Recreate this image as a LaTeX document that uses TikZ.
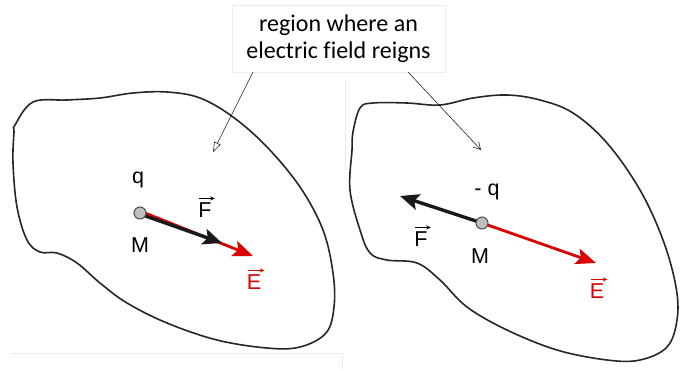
\documentclass[tikz,border=0pt]{standalone}
\usepackage{fontspec}
\setmainfont{Liberation Sans}
\newfontfamily\calfont[Ligatures=NoCommon]{Carlito}
\usetikzlibrary{arrows.meta}
\begin{document}
\begin{tikzpicture}[x=1pt,y=-1pt,
  blob/.style={draw=black!85,line width=1.6pt,smooth cycle,tension=0.6},
  lbl/.style={font=\fontsize{21.5}{24}\selectfont,inner sep=0pt},
  charge/.style={circle,draw=black!70,fill=gray!50,line width=1pt,minimum size=12pt,inner sep=0pt},
  Farrow/.style={black!90,line width=3.4pt,-{Stealth[length=19pt,width=16pt,inset=4pt]}},
  Earrow/.style={red!85!black,line width=2.8pt,-{Stealth[length=20pt,width=16pt,inset=4pt]}},
  vecar/.style={line width=0.8pt,-{Stealth[length=4.5pt,width=4pt]}},
  pointer/.style={line width=0.6pt,black!85}]
\useasboundingbox (0,0) rectangle (680,370);
\fill[white] (0,0) rectangle (680,370);
% faint frame remnants
\draw[gray!15,line width=0.6pt] (10,353) -- (342,353) -- (342,370);
\draw[gray!15,line width=0.6pt] (345,80) -- (345,170);
% left blob
\draw[blob] plot coordinates {(15,125) (33,102) (67,100) (100,98) (133,93) (167,92) (200,98) (233,117) (267,147) (300,187) (323,230) (333,273) (334,307) (326,333) (300,347) (267,348) (217,340) (167,323) (127,303) (100,283) (77,263) (57,253) (40,252) (27,240) (17,207) (13,163) (14,132)};
% right blob
\draw[blob] plot coordinates {(353,132) (360,108) (373,103) (407,103) (440,105) (473,98) (507,95) (540,100) (573,113) (607,143) (640,190) (663,240) (676,287) (677,320) (667,347) (640,360) (607,360) (557,350) (507,330) (467,307) (440,280) (417,263) (387,260) (370,253) (360,230) (350,190) (352,150)};
% text box
\node[draw=gray!15,fill=white,minimum width=213pt,minimum height=67pt,align=center,inner sep=0pt,
  font=\calfont\fontsize{24}{27}\selectfont] (title) at (338.5,38.5) {region where an\\electric field reigns};
\coordinate (tl) at (253,72);
\coordinate (tr) at (408,72);
\coordinate (pl) at (213,152);
\coordinate (pr) at (481,150);
\draw[pointer,-{Triangle[open,length=10pt,width=7pt]}] (tl) -- (pl);
\draw[pointer,-{Straight Barb[length=7pt,width=8pt]}] (tr) -- (pr);
% left charge
\coordinate (Ml) at (140,213);
\coordinate (El) at (253,256);
\coordinate (Fl) at (222,243);
\draw[Earrow] ([yshift=2pt]Ml) -- (El);
\draw[Farrow] ([yshift=-1pt]Ml) -- (Fl);
\node[charge] (ql) at (Ml) {};
\node[lbl] (qlab) at (138,180) {q};
\node[lbl] (Mlab) at (140,245) {M};
\node[lbl] (Flab) at (205,210) {F};
\draw[vecar] ([xshift=1pt,yshift=4pt]Flab.north west) -- ([xshift=3pt,yshift=4pt]Flab.north east);
\node[lbl,text=red!85!black] (Elab) at (254,282) {E};
\draw[vecar,red!85!black] ([xshift=1pt,yshift=4pt]Elab.north west) -- ([xshift=3pt,yshift=4pt]Elab.north east);
% right charge
\coordinate (Mr) at (482,223);
\coordinate (Er) at (596,263);
\coordinate (Fr) at (400,196);
\draw[Earrow] (Mr) -- (Er);
\draw[Farrow] (Mr) -- (Fr);
\node[charge] (qr) at (Mr) {};
\node[lbl] (qrlab) at (487,192) {- q};
\node[lbl] (Mrlab) at (480,256) {M};
\node[lbl] (Frlab) at (421,239) {F};
\draw[vecar] ([xshift=1pt,yshift=4pt]Frlab.north west) -- ([xshift=3pt,yshift=4pt]Frlab.north east);
\node[lbl,text=red!85!black] (Erlab) at (597,291) {E};
\draw[vecar,red!85!black] ([xshift=1pt,yshift=4pt]Erlab.north west) -- ([xshift=3pt,yshift=4pt]Erlab.north east);
\end{tikzpicture}
\end{document}
